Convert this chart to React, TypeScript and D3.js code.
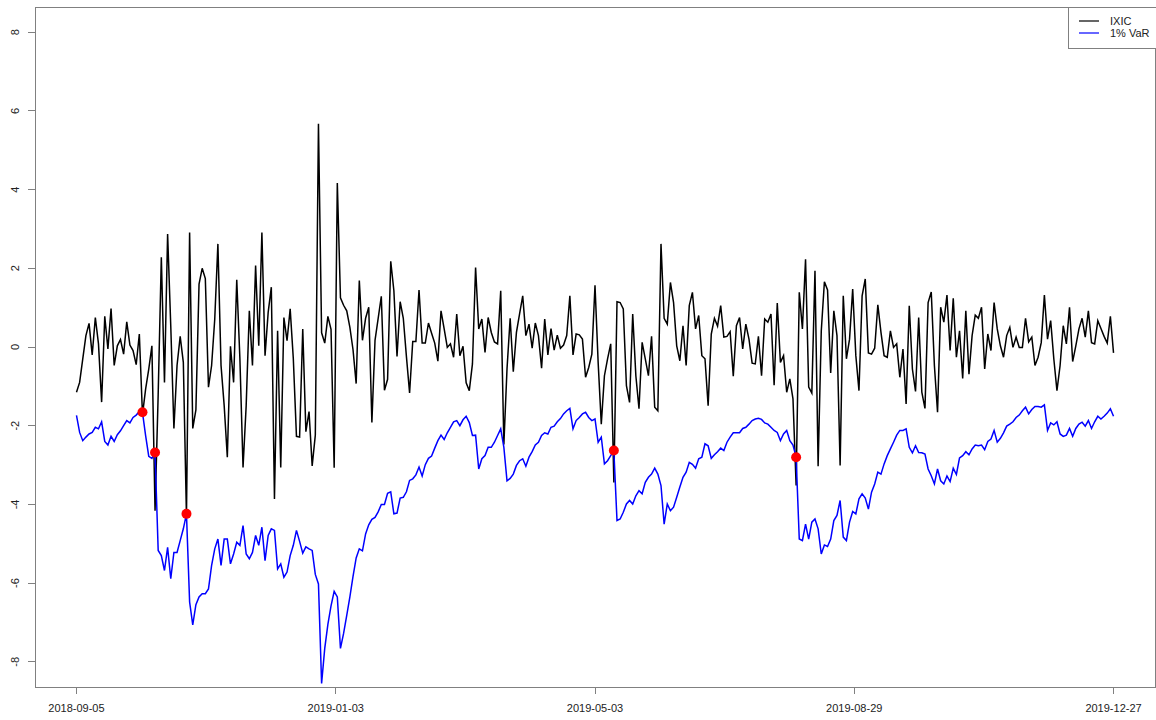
import React from "react";
import * as d3 from "d3";

// daily log returns of IXIC, in %
const ixic = [
  -1.15, -0.9, -0.3, 0.29, 0.6, -0.2, 0.75, 0.08, -1.4, 0.78, // 0
  -0.05, 0.98, -0.47, 0.03, 0.19, -0.18, 0.64, 0.05, -0.09, -0.45, // 10
  0.33, -1.72, -1.07, -0.56, 0.03, -4.16, -1.2, 2.28, -0.9, 2.87, // 20
  0.54, -2.07, -0.47, 0.27, -0.39, -4.3, 2.91, -2.07, -1.6, 1.6, // 30
  2.0, 1.74, -1.02, -0.47, 0.71, 2.62, -0.47, -1.49, -2.8, 0.02, // 40
  -0.9, 1.71, -0.3, -3.06, -1.49, 0.92, -0.47, 2.07, 0.03, 2.91, // 50
  -0.22, 0.88, 1.52, -3.86, 0.41, -3.06, 0.75, 0.16, 0.97, -0.3, // 60
  -2.27, -2.29, 0.46, -2.15, -1.64, -3.02, -2.24, 5.67, 0.36, 0.1, // 70
  0.78, 0.45, -3.07, 4.17, 1.25, 1.06, 0.92, 0.5, -0.07, -0.93, // 80
  1.69, 0.17, 0.73, 1.01, -1.92, 0.17, 0.73, 1.29, -1.1, -0.82, // 90
  2.18, 1.43, -0.24, 1.15, 0.73, -0.25, -1.17, 0.14, 0.14, 1.45, // 100
  0.1, 0.1, 0.61, 0.35, 0.1, -0.36, 0.92, 0.46, -0.01, 0.08, // 110
  -0.26, 0.84, -0.22, 0.02, -0.91, -1.11, -0.43, 2.02, 0.46, 0.71, // 120
  -0.14, 0.75, 0.37, 0.13, 0.08, 1.43, -2.48, -0.56, 0.73, -0.63, // 130
  0.37, 0.84, 1.3, 0.29, 0.58, -0.03, 0.61, 0.29, -0.54, 0.71, // 140
  -0.2, 0.47, -0.08, 0.3, -0.03, 0.05, 0.29, 1.3, -0.2, 0.33, // 150
  0.31, 0.2, -0.77, -0.52, -0.18, 1.57, -0.39, -1.96, -0.73, -0.3, // 160
  0.08, -3.44, 1.15, 1.13, 0.97, -0.98, -1.41, 0.84, -0.73, -1.57, // 170
  0.12, -0.3, -0.73, 0.27, -1.53, -1.62, 2.62, 0.73, 0.58, 1.64, // 180
  1.13, 0.03, -0.35, 0.54, -0.47, 1.05, 1.39, 0.46, 0.8, -0.22, // 190
  -0.3, -1.49, 0.33, 0.73, 0.53, 1.05, 0.25, 0.27, 0.39, -0.74, // 200
  0.54, 0.75, -0.05, 0.58, 0.2, -0.41, -0.43, 0.27, -0.73, 0.71, // 210
  0.63, 0.84, -0.97, 1.12, -0.39, -0.22, -1.15, -0.81, -1.32, -3.52, // 220
  1.39, 0.46, 2.23, -1.02, -1.17, 1.94, -3.03, 0.4, 1.66, 1.45, // 230
  -0.66, 0.92, 0.29, -3.01, 1.3, -0.3, 0.2, 1.47, -0.22, -1.11, // 240
  1.3, 1.73, -0.15, -0.18, -0.03, 1.07, 0.37, -0.22, -0.26, 0.41, // 250
  -0.01, 0.08, -0.77, -0.05, -1.45, 1.05, -0.56, -1.13, 0.75, -1.15, // 260
  -1.56, 1.13, 1.4, -0.47, -1.66, 1.01, 0.63, 1.32, -0.09, 1.24, // 270
  -0.26, 0.41, -0.8, 0.92, -0.69, 0.29, 0.81, 0.73, 1.01, -0.56, // 280
  0.33, -0.09, 1.13, 0.46, 0.03, -0.26, 0.29, 0.5, -0.01, 0.25, // 290
  -0.01, -0.01, 0.73, 0.13, 0.25, -0.47, -0.26, 0.11, 1.32, 0.2, // 300
  0.67, -0.3, -1.11, -0.47, 0.54, 0.08, 1.01, -0.37, 0.03, 0.46, // 310
  0.73, 0.25, 0.92, 0.11, 0.08, 0.67, 0.47, 0.27, 0.1, 0.78, // 320
  -0.15, // 330
];

// 1% value at risk
const var1 = [
  -1.74, -2.17, -2.38, -2.29, -2.21, -2.17, -2.04, -2.08, -1.9, -2.4, // 0
  -2.49, -2.27, -2.4, -2.23, -2.13, -2.0, -1.87, -1.93, -1.79, -1.73, // 10
  -1.64, -1.66, -2.25, -2.78, -2.83, -2.68, -5.17, -5.3, -5.68, -5.09, // 20
  -5.89, -5.22, -5.22, -4.92, -4.62, -4.24, -6.48, -7.06, -6.55, -6.35, // 30
  -6.27, -6.27, -6.15, -5.55, -5.13, -4.88, -5.55, -4.88, -4.88, -5.51, // 40
  -5.26, -4.96, -5.04, -4.54, -5.26, -5.38, -5.22, -4.79, -5.04, -4.58, // 50
  -5.43, -4.79, -4.62, -4.66, -5.64, -5.51, -5.85, -5.72, -5.3, -5.04, // 60
  -4.66, -4.94, -5.24, -5.08, -5.13, -5.17, -5.78, -6.02, -8.55, -7.66, // 70
  -7.05, -6.58, -6.21, -6.35, -7.66, -7.28, -6.82, -6.35, -5.83, -5.36, // 80
  -5.13, -5.18, -4.75, -4.52, -4.38, -4.33, -4.19, -4.0, -4.0, -3.72, // 90
  -3.68, -4.24, -4.22, -3.84, -3.82, -3.68, -3.39, -3.35, -3.25, -3.05, // 100
  -3.28, -2.99, -2.83, -2.77, -2.57, -2.38, -2.24, -2.35, -2.18, -2.04, // 110
  -1.9, -1.87, -2.0, -1.85, -1.76, -1.92, -2.25, -2.24, -3.1, -2.84, // 120
  -2.76, -2.55, -2.55, -2.42, -2.25, -2.08, -2.55, -3.4, -3.34, -3.23, // 130
  -3.01, -2.89, -2.84, -3.03, -2.8, -2.66, -2.49, -2.42, -2.25, -2.18, // 140
  -2.21, -2.04, -2.01, -1.9, -1.82, -1.7, -1.62, -1.56, -2.08, -1.87, // 150
  -1.79, -1.7, -1.66, -1.79, -1.87, -1.83, -2.42, -2.29, -2.97, -2.89, // 160
  -2.76, -2.63, -4.41, -4.37, -4.2, -3.99, -3.9, -3.99, -3.78, -3.65, // 170
  -3.73, -3.44, -3.31, -3.23, -3.08, -3.23, -3.52, -4.5, -3.99, -4.16, // 180
  -4.07, -3.82, -3.56, -3.31, -3.18, -2.93, -2.98, -3.08, -2.84, -2.8, // 190
  -2.46, -2.51, -2.83, -2.74, -2.66, -2.57, -2.63, -2.42, -2.29, -2.18, // 200
  -2.18, -2.18, -2.07, -2.04, -1.96, -1.87, -1.83, -1.81, -1.84, -1.93, // 210
  -1.96, -2.04, -2.12, -2.17, -2.38, -2.21, -2.12, -2.38, -2.49, -2.8, // 220
  -4.88, -4.92, -4.5, -4.88, -4.45, -4.37, -4.62, -5.26, -5.03, -5.07, // 230
  -4.88, -4.41, -4.28, -3.9, -4.83, -4.92, -4.45, -4.18, -4.24, -3.86, // 240
  -3.73, -3.84, -4.12, -3.69, -3.48, -3.18, -3.23, -2.97, -2.76, -2.59, // 250
  -2.42, -2.24, -2.12, -2.12, -2.08, -2.55, -2.69, -2.51, -2.68, -2.69, // 260
  -2.72, -3.1, -3.27, -3.48, -3.1, -3.4, -3.48, -3.28, -3.42, -3.08, // 270
  -3.24, -2.82, -2.76, -2.66, -2.74, -2.59, -2.49, -2.51, -2.49, -2.61, // 280
  -2.4, -2.34, -2.12, -2.42, -2.32, -2.18, -2.01, -1.96, -1.9, -1.79, // 290
  -1.73, -1.62, -1.53, -1.7, -1.59, -1.51, -1.51, -1.53, -1.47, -2.12, // 300
  -1.93, -1.98, -1.9, -2.21, -2.27, -2.24, -2.07, -2.27, -2.07, -1.96, // 310
  -1.91, -2.01, -1.87, -2.07, -1.9, -1.76, -1.83, -1.76, -1.68, -1.57, // 320
  -1.76, // 330
];

const tickIdx = [0, 82.5, 165, 247.5, 330];
const tickLabels = ["2018-09-05", "2019-01-03", "2019-05-03", "2019-08-29", "2019-12-27"];
const yTicks = [-8, -6, -4, -2, 0, 2, 4, 6, 8];
const seriesNames = ["IXIC", "1% VaR"];

const W = 1156;
const H = 720;
const left = 35;
const right = 1155;
const top = 7;
const bottom = 687;
const font = "Liberation Sans, Arial, sans-serif";
const axisCol = "#808080";

function App() {
  const n = ixic.length;
  const pad = (n - 1) * 0.04;
  const x = d3.scaleLinear().domain([-pad, n - 1 + pad]).range([left, right]);
  const y = d3.scaleLinear().domain([-8 * 1.08, 8 * 1.08]).range([bottom, top]);

  const line = d3
    .line<number>()
    .x((d, i) => x(i))
    .y((d) => y(d));

  // days where the return fell below VaR
  const breaches = ixic
    .map((r, i) => (r < var1[i] ? i : -1))
    .filter((i) => i >= 0);

  return (
    <div style={{ position: "absolute", left: 0, top: 0 }}>
      <svg width={W} height={H} style={{ display: "block", background: "#fff" }}>
        <rect
          x={left}
          y={top}
          width={right - left}
          height={bottom - top}
          fill="none"
          stroke={axisCol}
          strokeWidth={1}
          shapeRendering="crispEdges"
        />
        <path d={line(ixic) || ""} fill="none" stroke="#000" strokeWidth={1.5} />
        <path d={line(var1) || ""} fill="none" stroke="#0000ff" strokeWidth={1.5} />
        {breaches.map((i) => (
          <circle key={i} cx={x(i)} cy={y(var1[i])} r={5} fill="#ff0000" />
        ))}

        {/* x axis */}
        {tickIdx.map((t, k) => (
          <g key={k}>
            <line
              x1={x(t)}
              x2={x(t)}
              y1={bottom}
              y2={bottom + 7}
              stroke={axisCol}
              shapeRendering="crispEdges"
            />
            <text
              x={x(t)}
              y={712}
              textAnchor="middle"
              fontFamily={font}
              fontSize={11}
              fill="#222"
            >
              {tickLabels[k]}
            </text>
          </g>
        ))}

        {/* y axis */}
        {yTicks.map((t) => (
          <g key={t}>
            <line
              x1={left - 7}
              x2={left}
              y1={y(t)}
              y2={y(t)}
              stroke={axisCol}
              shapeRendering="crispEdges"
            />
            <text
              transform={`translate(19,${y(t)}) rotate(-90)`}
              textAnchor="middle"
              fontFamily={font}
              fontSize={11}
              fill="#222"
            >
              {t}
            </text>
          </g>
        ))}

        {/* legend */}
        <rect
          x={1068}
          y={top}
          width={100}
          height={41}
          fill="#fff"
          stroke={axisCol}
          shapeRendering="crispEdges"
        />
        {seriesNames.map((s, k) => (
          <g key={s}>
            <line
              x1={1079}
              x2={1099}
              y1={21 + k * 12}
              y2={21 + k * 12}
              stroke={k === 0 ? "#000" : "#0000ff"}
              strokeWidth={1.2}
            />
            <text
              x={1110}
              y={25 + k * 12}
              fontFamily={font}
              fontSize={11}
              fill="#222"
            >
              {s}
            </text>
          </g>
        ))}
      </svg>
    </div>
  );
}

export default App;
